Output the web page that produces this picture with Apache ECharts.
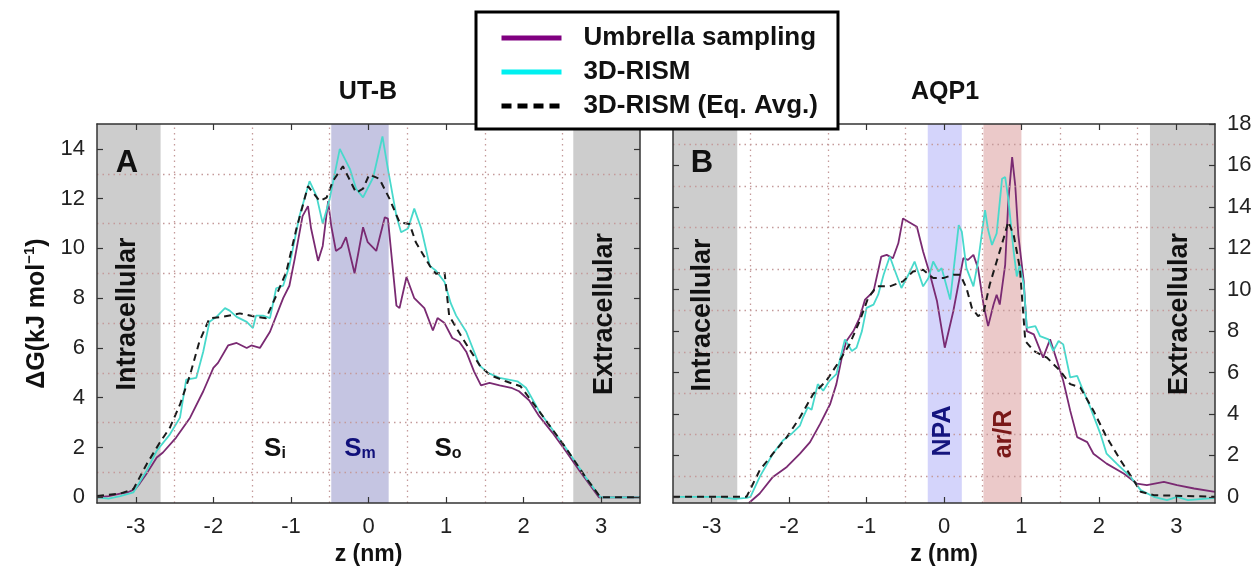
<!DOCTYPE html>
<html>
<head>
<meta charset="utf-8">
<script src="https://cdn.jsdelivr.net/npm/echarts@6/dist/echarts.min.js"></script>
<style>
  html, body { margin: 0; padding: 0; background: #fff; }
  #chart { width: 1259px; height: 571px; }
</style>
</head>
<body>
<div id="chart"></div>
<script>
// ---------------- DATA ----------------
const panelTitles = ['UT-B', 'AQP1'];
const seriesNames = ['Umbrella sampling', '3D-RISM', '3D-RISM (Eq. Avg.)'];
const xTicks = [-3, -2, -1, 0, 1, 2, 3];
const yTicksA = [0, 2, 4, 6, 8, 10, 12, 14];
const yTicksB = [0, 2, 4, 6, 8, 10, 12, 14, 16, 18];
const xGridA = [-2.5, -1.5, -0.5, 0.5, 1.5, 2.5];
const yGridA = [1, 3, 5, 7, 9, 11, 13];
const yGridB = [1, 3, 5, 7, 9, 11, 13, 15, 17];

// UT-B (panel A)
const utbUsZ = [-3.5,-3.35,-3.2,-3.1,-3.0,-2.95,-2.85,-2.73,-2.65,-2.48,-2.3,-2.13,-2.0,-1.94,-1.81,-1.7,-1.57,-1.51,-1.4,-1.27,-1.1,-1.02,-0.95,-0.85,-0.78,-0.74,-0.65,-0.59,-0.52,-0.48,-0.42,-0.35,-0.29,-0.18,-0.07,-0.01,0.1,0.21,0.25,0.36,0.40,0.49,0.59,0.72,0.83,0.89,0.98,1.08,1.17,1.26,1.36,1.45,1.56,1.69,1.84,1.94,2.07,2.2,2.37,2.54,2.72,2.89,2.97,3.5];
const utbUsG = [0.0,0.05,0.15,0.2,0.35,0.55,1.0,1.6,1.8,2.4,3.2,4.26,5.2,5.4,6.1,6.2,6.0,6.1,6.0,6.65,8.0,8.5,9.6,11.3,11.7,10.8,9.5,10.1,11.9,10.9,9.9,10.05,10.45,9.0,10.85,10.25,9.9,11.25,11.2,7.7,7.6,8.85,8.0,7.6,6.7,7.2,7.0,6.4,6.25,5.85,5.06,4.5,4.6,4.5,4.4,4.26,3.9,3.26,2.6,1.87,1.07,0.34,0.0,0.0];

const utbRismZ = [-3.5,-3.35,-3.2,-3.03,-2.86,-2.73,-2.56,-2.43,-2.35,-2.22,-2.13,-2.05,-1.96,-1.85,-1.79,-1.70,-1.57,-1.49,-1.45,-1.36,-1.27,-1.19,-1.10,-1.02,-0.89,-0.76,-0.67,-0.59,-0.50,-0.37,-0.24,-0.16,-0.07,0.06,0.18,0.25,0.36,0.42,0.51,0.59,0.68,0.79,0.87,0.98,1.06,1.13,1.26,1.43,1.54,1.69,1.92,2.03,2.2,2.54,2.8,2.99,3.5];
const utbRismG = [0.0,-0.05,0.05,0.2,1.07,1.87,2.53,3.2,4.73,4.8,5.86,7.05,7.25,7.6,7.5,7.25,7.05,6.8,7.3,7.3,7.2,8.4,8.5,9.3,11.3,12.7,12.1,11.0,12.0,14.0,13.2,12.4,12.05,12.85,14.5,13.2,11.3,10.65,10.8,11.6,10.8,9.3,9.1,8.65,7.8,7.3,6.65,5.3,5.0,4.8,4.66,4.4,3.46,2.0,0.8,0.0,0.0];

const utbAvgZ = [-3.5,-3.2,-3.03,-2.86,-2.69,-2.56,-2.43,-2.30,-2.18,-2.05,-1.88,-1.66,-1.45,-1.32,-1.19,-1.06,-0.93,-0.78,-0.63,-0.54,-0.46,-0.33,-0.16,-0.07,0.01,0.14,0.27,0.40,0.53,0.61,0.79,0.87,0.98,1.04,1.21,1.43,1.56,1.77,1.96,2.2,2.54,2.8,2.99,3.5];
const utbAvgG = [0.05,0.15,0.33,1.33,2.2,2.8,3.73,4.92,6.26,7.19,7.25,7.39,7.25,7.19,8.1,9.05,10.78,12.5,11.9,12.04,12.7,13.3,12.24,12.4,12.97,12.8,12.0,11.05,10.98,10.25,9.3,8.98,9.05,7.3,6.4,5.32,4.92,4.66,4.46,3.46,2.0,0.8,0.0,0.0];

// AQP1 (panel B)
const aqpUsZ = [-2.52,-2.38,-2.21,-2.03,-1.86,-1.73,-1.60,-1.47,-1.39,-1.32,-1.26,-1.17,-1.09,-1.02,-0.91,-0.81,-0.74,-0.66,-0.59,-0.53,-0.46,-0.35,-0.27,-0.18,-0.09,0.01,0.12,0.25,0.31,0.38,0.44,0.51,0.57,0.64,0.68,0.72,0.79,0.83,0.88,0.92,0.96,1.03,1.07,1.16,1.28,1.37,1.46,1.54,1.63,1.72,1.85,1.93,2.10,2.32,2.49,2.62,2.84,3.01,3.23,3.5];
const aqpUsG = [-0.3,0.16,0.96,1.44,2.08,2.64,3.52,4.48,5.44,6.72,7.52,8.0,8.64,9.52,9.92,11.6,11.68,11.52,12.24,13.44,13.28,13.04,11.84,10.72,9.44,7.2,8.96,11.52,11.44,11.68,11.04,9.28,8.24,9.28,9.76,9.28,11.2,14.24,16.4,15.04,12.64,10.4,8.0,7.84,6.72,7.6,6.56,5.6,4.16,2.88,2.64,2.08,1.6,1.12,0.64,0.56,0.72,0.56,0.4,0.24];

const aqpRismZ = [-3.5,-2.9,-2.7,-2.55,-2.5,-2.38,-2.21,-2.08,-1.97,-1.86,-1.82,-1.76,-1.71,-1.63,-1.56,-1.48,-1.39,-1.28,-1.19,-1.13,-1.06,-1.0,-0.91,-0.85,-0.78,-0.70,-0.63,-0.55,-0.46,-0.38,-0.27,-0.20,-0.14,-0.07,-0.03,0.08,0.19,0.23,0.29,0.38,0.44,0.53,0.57,0.62,0.68,0.75,0.79,0.83,0.90,0.94,0.98,1.03,1.07,1.18,1.24,1.35,1.41,1.48,1.54,1.63,1.72,1.78,1.89,2.02,2.10,2.23,2.41,2.54,2.71,2.88,3.01,3.15,3.5];
const aqpRismG = [0.0,0.0,-0.1,-0.05,0.0,0.96,2.08,2.72,3.04,3.44,3.84,4.32,4.2,5.44,5.12,5.6,5.92,7.6,7.04,7.2,8.0,9.12,9.28,9.76,10.72,11.6,10.88,10.08,10.72,11.36,10.16,10.56,11.36,10.88,11.04,9.52,13.12,12.8,11.04,10.16,11.36,13.84,12.88,12.16,12.72,15.36,15.44,14.4,11.84,10.64,11.2,10.24,8.16,8.24,7.76,7.6,7.04,7.52,7.36,5.76,5.84,5.28,4.32,3.04,2.08,1.6,0.96,0.32,0.0,-0.16,0.0,-0.16,-0.05];

const aqpAvgZ = [-3.5,-2.55,-2.38,-2.21,-2.03,-1.86,-1.69,-1.52,-1.35,-1.22,-1.09,-0.98,-0.87,-0.70,-0.53,-0.40,-0.27,-0.14,-0.01,0.12,0.21,0.29,0.36,0.44,0.51,0.59,0.68,0.77,0.83,0.90,0.98,1.05,1.16,1.33,1.50,1.63,1.76,1.93,2.10,2.28,2.45,2.54,2.71,3.5];
const aqpAvgG = [0.0,0.0,1.28,2.08,2.88,3.84,4.96,5.6,6.56,7.36,8.48,9.6,10.16,10.16,10.4,10.88,10.96,10.56,10.56,10.72,10.72,10.08,9.12,8.72,8.88,10.24,11.36,12.48,13.28,12.64,11.04,7.52,7.04,6.72,6.08,5.44,5.28,4.16,2.88,1.76,0.8,0.24,0.08,0.0];

// shaded regions [start, end] in nm
const bandsA = { intra: [-3.5, -2.68], sm: [-0.48, 0.26], extra: [2.64, 3.5] };
const bandsB = { intra: [-3.5, -2.67], npa: [-0.21, 0.23], arr: [0.51, 1.0], extra: [2.66, 3.5] };

// ---------------- STYLE ----------------
const FONT = "'Liberation Sans', Arial, Helvetica, sans-serif";
const C_US = '#7a2a72', C_RISM = '#48d9cc', C_AVG = '#1a1a1a';
const C_GRAY = '#cdcdcd', C_SM = '#c5c5e2', C_NPA = '#d4d4fb', C_ARR = '#ebc9c9';
const GRIDCOL = '#c49a9a';
const AXCOL = '#333';

const zip = (xs, ys) => xs.map((x, i) => [x, ys[i]]);

const chart = echarts.init(document.getElementById('chart'), null, { renderer: 'canvas' });

function xAxes(gi) {
  const base = {
    type: 'value', gridIndex: gi, min: -3.5, max: 3.5, z: 10,
    axisLine: { show: true, onZero: false, lineStyle: { color: AXCOL, width: 1.5 } },
    axisTick: { show: true, inside: true, length: 6, customValues: xTicks, lineStyle: { color: AXCOL, width: 1.2 } },
    splitLine: { show: false }
  };
  return [
    Object.assign({}, base, {
      position: 'bottom',
      axisLabel: { show: true, customValues: xTicks, fontSize: 22, color: '#222', fontFamily: FONT, margin: 13 },
      name: 'z (nm)', nameLocation: 'middle', nameGap: 40,
      nameTextStyle: { fontSize: 23, fontWeight: 'bold', color: '#111', fontFamily: FONT }
    }),
    Object.assign({}, base, { position: 'top', axisLabel: { show: false } })
  ];
}

function yAxes(gi, min, max, ticks, labelSide, name) {
  const base = {
    type: 'value', gridIndex: gi, min: min, max: max, z: 10,
    axisLine: { show: true, onZero: false, lineStyle: { color: AXCOL, width: 1.5 } },
    axisTick: { show: true, inside: true, length: 6, customValues: ticks, lineStyle: { color: AXCOL, width: 1.2 } },
    splitLine: { show: false }
  };
  const lab = { show: true, customValues: ticks, fontSize: 22, color: '#222', fontFamily: FONT, margin: 12 };
  const left = Object.assign({}, base, { position: 'left', axisLabel: labelSide === 'left' ? lab : { show: false } });
  const right = Object.assign({}, base, { position: 'right', axisLabel: labelSide === 'right' ? lab : { show: false } });
  if (name) {
    left.name = '{a|ΔG(kJ mol}{s|−1}{a|)}';
    left.nameLocation = 'middle';
    left.nameGap = 45;
    left.nameTextStyle = {
      fontFamily: FONT, color: '#111',
      rich: {
        a: { fontSize: 25, fontWeight: 'bold', fontFamily: FONT, color: '#111', lineHeight: 30 },
        s: { fontSize: 15, fontWeight: 'bold', fontFamily: FONT, color: '#111', verticalAlign: 'top', lineHeight: 30, padding: [0, 0, 13, 0] }
      }
    };
  }
  return [left, right];
}

function bandSeries(xi, yi, areas) {
  return {
    type: 'line', xAxisIndex: xi, yAxisIndex: yi, data: [], silent: true, z: 1,
    markArea: {
      silent: true,
      data: areas.map(a => [{ xAxis: a[0], itemStyle: { color: a[2], opacity: 1 } }, { xAxis: a[1] }])
    }
  };
}

function gridSeries(xi, yi, xs, ys) {
  return {
    type: 'line', xAxisIndex: xi, yAxisIndex: yi, data: [], silent: true, z: 2,
    markLine: {
      silent: true, symbol: ['none', 'none'], label: { show: false },
      lineStyle: { color: GRIDCOL, type: [1.5, 4], width: 1.3 },
      emphasis: { disabled: true },
      data: xs.map(v => ({ xAxis: v })).concat(ys.map(v => ({ yAxis: v })))
    }
  };
}

function curve(name, xi, yi, xs, ys, color, dashed) {
  return {
    name: name, type: 'line', xAxisIndex: xi, yAxisIndex: yi,
    data: zip(xs, ys), symbol: 'none', showSymbol: false, z: 3, clip: true,
    lineStyle: { color: color, width: dashed ? 2 : 1.8, type: dashed ? [7, 5] : 'solid' },
    itemStyle: { color: color },
    emphasis: { disabled: true }
  };
}

const option = {
  animation: false,
  backgroundColor: '#fff',
  textStyle: { fontFamily: FONT },
  grid: [
    { left: 97, top: 124, width: 543, height: 382 },
    { left: 673, top: 124, width: 542, height: 382 }
  ],
  xAxis: xAxes(0).concat(xAxes(1)),
  yAxis: yAxes(0, -0.23, 15, yTicksA, 'left', true).concat(yAxes(1, -0.3, 18, yTicksB, 'right', false)),
  legend: {
    orient: 'vertical', left: 476, top: 12, z: 20,
    backgroundColor: '#fff', borderColor: '#000', borderWidth: 3, borderRadius: 0,
    padding: [13, 20, 10, 23],
    itemWidth: 60, itemHeight: 14, itemGap: 8,
    selectedMode: false,
    itemStyle: { opacity: 0 },
    textStyle: { fontSize: 26, fontWeight: 'bold', color: '#111', fontFamily: FONT, lineHeight: 26, padding: [0, 0, 0, 17] },
    data: [
      { name: seriesNames[0], itemStyle: { opacity: 0 }, lineStyle: { color: '#800080', width: 5 } },
      { name: seriesNames[1], itemStyle: { opacity: 0 }, lineStyle: { color: '#00f0f0', width: 5 } },
      { name: seriesNames[2], itemStyle: { opacity: 0 }, lineStyle: { color: '#000', width: 5, type: [10, 6] } }
    ]
  },
  series: [
    bandSeries(0, 0, [[bandsA.intra[0], bandsA.intra[1], C_GRAY], [bandsA.sm[0], bandsA.sm[1], C_SM], [bandsA.extra[0], bandsA.extra[1], C_GRAY]]),
    bandSeries(2, 2, [[bandsB.intra[0], bandsB.intra[1], C_GRAY], [bandsB.npa[0], bandsB.npa[1], C_NPA], [bandsB.arr[0], bandsB.arr[1], C_ARR], [bandsB.extra[0], bandsB.extra[1], C_GRAY]]),
    gridSeries(0, 0, xGridA, yGridA),
    gridSeries(2, 2, xGridA, yGridB),
    curve(seriesNames[0], 0, 0, utbUsZ, utbUsG, C_US, false),
    curve(seriesNames[1], 0, 0, utbRismZ, utbRismG, C_RISM, false),
    curve(seriesNames[2], 0, 0, utbAvgZ, utbAvgG, C_AVG, true),
    curve(seriesNames[0], 2, 2, aqpUsZ, aqpUsG, C_US, false),
    curve(seriesNames[1], 2, 2, aqpRismZ, aqpRismG, C_RISM, false),
    curve(seriesNames[2], 2, 2, aqpAvgZ, aqpAvgG, C_AVG, true)
  ],
  graphic: [
    { type: 'text', x: 368, y: 92, z: 30, style: { text: panelTitles[0], font: 'bold 25px ' + FONT, fill: '#111', align: 'center', verticalAlign: 'middle' } },
    { type: 'text', x: 945, y: 92, z: 30, style: { text: panelTitles[1], font: 'bold 25px ' + FONT, fill: '#111', align: 'center', verticalAlign: 'middle' } },
    { type: 'text', x: 127, y: 163, z: 30, style: { text: 'A', font: 'bold 31px ' + FONT, fill: '#111', align: 'center', verticalAlign: 'middle' } },
    { type: 'text', x: 702, y: 163, z: 30, style: { text: 'B', font: 'bold 31px ' + FONT, fill: '#111', align: 'center', verticalAlign: 'middle' } },
    { type: 'text', x: 128, y: 314, rotation: Math.PI / 2, z: 30, style: { text: 'Intracellular', font: 'bold 27px ' + FONT, fill: '#111', align: 'center', verticalAlign: 'middle' } },
    { type: 'text', x: 605, y: 314, rotation: Math.PI / 2, z: 30, style: { text: 'Extracellular', font: 'bold 27px ' + FONT, fill: '#111', align: 'center', verticalAlign: 'middle' } },
    { type: 'text', x: 703, y: 315, rotation: Math.PI / 2, z: 30, style: { text: 'Intracellular', font: 'bold 27px ' + FONT, fill: '#111', align: 'center', verticalAlign: 'middle' } },
    { type: 'text', x: 1180, y: 314, rotation: Math.PI / 2, z: 30, style: { text: 'Extracellular', font: 'bold 27px ' + FONT, fill: '#111', align: 'center', verticalAlign: 'middle' } },
    { type: 'text', x: 943, y: 431, rotation: Math.PI / 2, z: 30, style: { text: 'NPA', font: 'bold 25px ' + FONT, fill: '#14147e', align: 'center', verticalAlign: 'middle' } },
    { type: 'text', x: 1004, y: 434, rotation: Math.PI / 2, z: 30, style: { text: 'ar/R', font: 'bold 25px ' + FONT, fill: '#7a1818', align: 'center', verticalAlign: 'middle' } },
    { type: 'text', x: 275, y: 449, z: 30, style: { text: '{s|S}{b|i}', align: 'center', verticalAlign: 'middle',
        rich: { s: { font: 'bold 26px ' + FONT, fill: '#111' }, b: { font: 'bold 16px ' + FONT, fill: '#111', verticalAlign: 'bottom', padding: [10, 0, 0, 0] } } } },
    { type: 'text', x: 360, y: 449, z: 30, style: { text: '{s|S}{b|m}', align: 'center', verticalAlign: 'middle',
        rich: { s: { font: 'bold 26px ' + FONT, fill: '#10107a' }, b: { font: 'bold 16px ' + FONT, fill: '#10107a', verticalAlign: 'bottom', padding: [10, 0, 0, 0] } } } },
    { type: 'text', x: 448, y: 449, z: 30, style: { text: '{s|S}{b|o}', align: 'center', verticalAlign: 'middle',
        rich: { s: { font: 'bold 26px ' + FONT, fill: '#111' }, b: { font: 'bold 16px ' + FONT, fill: '#111', verticalAlign: 'bottom', padding: [10, 0, 0, 0] } } } }
  ]
};

chart.setOption(option);
</script>
</body>
</html>
